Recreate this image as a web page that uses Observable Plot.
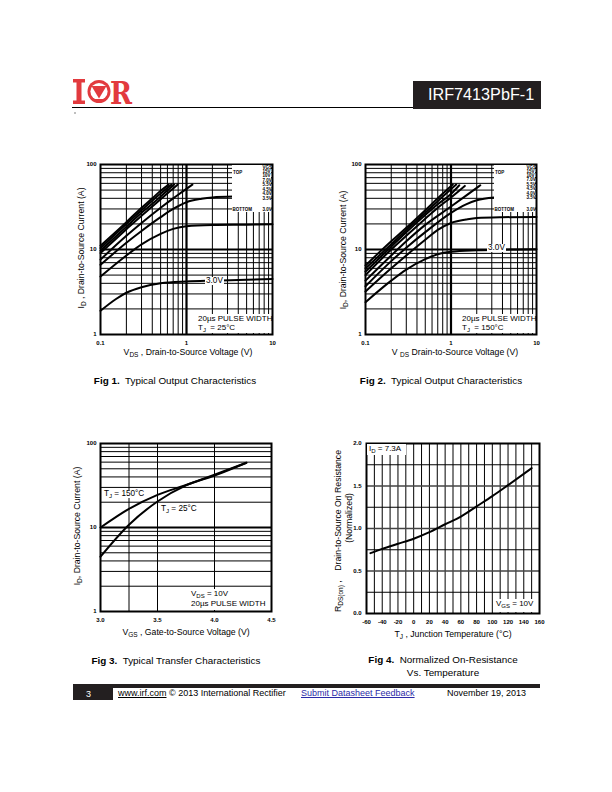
<!DOCTYPE html>
<html><head><meta charset="utf-8">
<script src="https://cdn.jsdelivr.net/npm/d3@7"></script>
<script src="https://cdn.jsdelivr.net/npm/@observablehq/plot@0.6"></script>
<style>
body{margin:0;background:#fff;}
#page{position:relative;width:612px;height:792px;overflow:hidden;font-family:Arial,"Liberation Sans",Helvetica,sans-serif;color:#000;background:#fff;}
.abs{position:absolute;white-space:nowrap;line-height:1;}
sub{font-size:75%;vertical-align:-0.3em;line-height:0;}
</style></head><body><div id="page"></div>
<script>
// ---------------- DATA ----------------
const vgsLevels = ["15V","10V","7.0V","5.5V","4.5V","4.0V","3.5V","3.0V"];
const legendTitle = "VGS";

// Fig 1: Tj = 25°C, VDS (V) vs ID (A)
const fig1Vds = [
  [0.1,0.2,0.3,0.4,0.5,0.62],
  [0.1,0.2,0.3,0.4,0.5,0.67],
  [0.1,0.2,0.3,0.4,0.5,0.72],
  [0.1,0.2,0.3,0.4,0.5,0.79],
  [0.1,0.2,0.3,0.5,0.7,0.9,1.17],
  [0.1,0.2,0.3,0.5,0.7,1,1.5,2,3.5],
  [0.1,0.2,0.3,0.5,0.7,1,2,5,10],
  [0.1,0.15,0.2,0.3,0.5,1,2,5,10]
];
const fig1Id = [
  [11.1,21,31,40,49,58],
  [10.4,20,29,37.5,45.5,58],
  [9.7,18.5,27,34.5,42,58],
  [9.1,17.3,25,32,39,58],
  [7.6,14.5,20.5,31,40,48,58],
  [6.6,12,16.5,24,30,36,39.5,41,42],
  [4.8,8.5,11.5,15.3,17.5,18.8,19.4,19.6,19.8],
  [1.9,2.6,3.1,3.6,4.0,4.2,4.3,4.4,4.5]
];
// Fig 2: Tj = 150°C
const fig2Vds = [
  [0.1,0.2,0.3,0.5,0.7,1.05],
  [0.1,0.2,0.3,0.5,0.7,1.15],
  [0.1,0.2,0.3,0.5,0.7,1.0,1.25],
  [0.1,0.2,0.3,0.5,0.7,1.0,1.45],
  [0.1,0.2,0.3,0.5,1,1.5,2.2],
  [0.1,0.2,0.3,0.5,1,1.5,2,3.2],
  [0.1,0.2,0.3,0.5,0.7,1,1.5,2,4,10],
  [0.1,0.2,0.3,0.5,0.7,1,2,5,10]
];
const fig2Id = [
  [6.5,12.5,18,29,40,58],
  [6.0,11.5,17,27,37,58],
  [5.5,10.8,16,25.5,34,45,57],
  [5.0,10,14.5,23,31,41,56],
  [4.3,8.5,12.5,19.5,32,43,57],
  [3.7,7.3,10.5,16,27,34,38,41],
  [3.2,6,8.5,13,17,20.5,22.5,23.5,24,24.2],
  [2.4,4.3,5.8,7.7,8.8,9.4,9.8,10,10.1]
];
// Fig 3: transfer characteristics, VGS (V) vs ID (A)
const fig3Series = ["TJ = 150°C","TJ = 25°C"];
const fig3Vgs = [[3.0,3.25,3.5,3.75,4.0,4.28],[3.0,3.25,3.5,3.75,4.0,4.28]];
const fig3Id  = [[10,16.7,24.5,32,42.5,59],[4.5,10.8,20.4,31.7,41.5,59]];
// Fig 4: normalized RDS(on) vs TJ
const fig4Tj = [-55,-40,-20,0,20,40,60,80,100,120,150];
const fig4R  = [0.71,0.76,0.82,0.88,0.957,1.05,1.14,1.26,1.38,1.51,1.71];

// tick labels / grid values
const logTicksX = [0.1,1,10];
const logTicksY = [1,10,100];
const logMinorX = [0.2,0.3,0.4,0.5,0.6,0.7,0.8,0.9,2,3,4,5,6,7,8,9];
const logMajorX = [1];
const logMinorY = [2,3,4,5,6,7,8,9,20,30,40,50,60,70,80,90];
const logMajorY = [10];
const fig3TicksX = [3.0,3.5,4.0,4.5];
const fig3GridX = [3.25,3.5,4.0];
const fig4TicksX = [-60,-40,-20,0,20,40,60,80,100,120,140,160];
const fig4TicksY = [0,0.5,1.0,1.5,2.0];
const fig4GridX = [-50,-40,-30,-20,-10,0,10,20,30,40,50,60,70,80,90,100,110,120,130,140,150];
const fig4GridY = [0.25,0.75,1.25,1.75];
const fig4GridYMajor = [0.5,1.0,1.5];

// ---------------- HELPERS ----------------
const page = document.getElementById("page");
function rows(keys, xs, ys){ return keys.flatMap((k,j)=>xs[j].map((x,i)=>({k, x, y: ys[j][i]}))); }
function add(html, css){ const d=document.createElement("div"); d.className="abs"; d.innerHTML=html; Object.assign(d.style, css); page.appendChild(d); return d; }
function chart(o){
  const svg = Plot.plot({
    width:o.w, height:o.h, marginLeft:o.ml, marginRight:o.mr, marginTop:o.mt, marginBottom:o.mb,
    style:{fontFamily:"Arial, 'Liberation Sans', sans-serif", fontSize:"6px", fontWeight:"bold", background:"transparent", overflow:"visible", color:"#000"},
    x:o.x, y:o.y, marks:o.marks
  });
  svg.style.position="absolute"; svg.style.left=o.left+"px"; svg.style.top=o.top+"px";
  page.appendChild(svg);
}
const thin = {stroke:"#000", strokeWidth:1};
const thick = {stroke:"#000", strokeWidth:2.2};
function outputMarks(data){
  return [
    Plot.ruleX(logMinorX, thin), Plot.ruleX(logMajorX, thick),
    Plot.ruleY(logMinorY, thin), Plot.ruleY(logMajorY, thick),
    Plot.line(data, {x:"x", y:"y", z:"k", curve:"monotone-x", stroke:"#000", strokeWidth:2}),
    Plot.frame({stroke:"#000", strokeWidth:2})
  ];
}
const logX = {type:"log", domain:[0.1,10], ticks:logTicksX, tickFormat:d=>String(d), tickSize:0, tickPadding:6, label:null};
const logY = {type:"log", domain:[1,100], ticks:logTicksY, tickFormat:d=>String(d), tickSize:0, tickPadding:4, label:null};

// ---------------- FIG 1 ----------------
chart({left:60, top:150, w:230, h:220, ml:40, mr:18, mt:14, mb:36, x:logX, y:logY,
  marks: outputMarks(rows(vgsLevels, fig1Vds, fig1Id))});
// ---------------- FIG 2 ----------------
chart({left:330, top:150, w:230, h:220, ml:35, mr:24, mt:14, mb:36, x:logX, y:logY,
  marks: outputMarks(rows(vgsLevels, fig2Vds, fig2Id))});
// ---------------- FIG 3 ----------------
chart({left:60, top:430, w:230, h:220, ml:40, mr:19, mt:13, mb:39,
  x:{domain:[3.0,4.5], ticks:fig3TicksX, tickFormat:d3.format(".1f"), tickSize:0, tickPadding:6, label:null},
  y:logY,
  marks:[
    Plot.ruleX(fig3GridX, thin),
    Plot.ruleY(logMinorY, thin), Plot.ruleY(logMajorY, thick),
    Plot.line(rows(fig3Series, fig3Vgs, fig3Id), {x:"x", y:"y", z:"k", curve:"monotone-x", stroke:"#000", strokeWidth:2}),
    Plot.frame({stroke:"#000", strokeWidth:2})
  ]});
// ---------------- FIG 4 ----------------
chart({left:330, top:430, w:230, h:220, ml:36, mr:21, mt:13, mb:37,
  x:{domain:[-60,160], ticks:fig4TicksX, tickFormat:d=>String(d), tickSize:0, tickPadding:6, label:null},
  y:{domain:[0,2], ticks:fig4TicksY, tickFormat:d3.format(".1f"), tickSize:0, tickPadding:5, label:null},
  marks:[
    Plot.ruleX(fig4GridX, thin),
    Plot.ruleY(fig4GridY, thin), Plot.ruleY(fig4GridYMajor, {stroke:"#444", strokeWidth:1.6}),
    Plot.line(fig4Tj.map((t,i)=>({x:t, y:fig4R[i]})), {x:"x", y:"y", curve:"monotone-x", stroke:"#000", strokeWidth:2}),
    Plot.frame({stroke:"#000", strokeWidth:2})
  ]});

// ---------------- OVERLAYS (legends / annotations) ----------------
const NS = "http://www.w3.org/2000/svg";
const legendSvg = document.createElementNS(NS, "svg");
legendSvg.setAttribute("width", 612); legendSvg.setAttribute("height", 792);
Object.assign(legendSvg.style, {position:"absolute", left:"0", top:"0"});
function stext(g, t, x, y){
  const e = document.createElementNS(NS, "text");
  e.setAttribute("transform", `translate(${x},${y}) scale(0.5)`);
  e.setAttribute("font-size", "9"); e.setAttribute("font-weight", "bold");
  e.setAttribute("font-family", "Arial,'Liberation Sans',sans-serif");
  e.textContent = t; g.appendChild(e);
}
function legend(left, top, w, h, valueX, ys){
  const r = document.createElementNS(NS, "rect");
  r.setAttribute("x", left); r.setAttribute("y", top); r.setAttribute("width", w); r.setAttribute("height", h); r.setAttribute("fill", "#fff");
  legendSvg.appendChild(r);
  stext(legendSvg, "TOP", left+1, ys[1]+0.5);
  stext(legendSvg, "BOTTOM", left+0.5, ys[8]);
  [legendTitle, ...vgsLevels].forEach((t,i)=> stext(legendSvg, t, valueX, ys[i]));
}
legend(232, 165, 39, 47, 262.5, [168.5,173,177,181.5,185.5,190.5,194.5,199.5,211]);
legend(494, 165, 41, 47, 526.5, [168.5,173,177,181,186,190,195,199,211]);
page.appendChild(legendSvg);

function note(lines, left, top, w, h, gap){
  add("", {left:left+"px", top:top+"px", width:w+"px", height:h+"px", background:"#fff"});
  lines.forEach((l,i)=> add(l, {left:(left+2)+"px", top:(top+1+i*gap)+"px", fontSize:"8px"}));
}
note(["20µs PULSE WIDTH","T<sub>J</sub>&nbsp; = 25°C"], 196, 314, 75, 19, 9);
note(["20µs PULSE WIDTH","T<sub>J</sub>&nbsp; = 150°C"], 460, 314, 75, 19, 9);
note(["V<sub>DS</sub> = 10V","20µs PULSE WIDTH"], 189, 589, 81, 21, 10);
note(["I<sub>D</sub> = 7.3A"], 367, 444, 39, 11, 9);
note(["V<sub>GS</sub> = 10V"], 494, 599, 44, 13, 9);

// curve labels with white backgrounds
add("3.0V", {left:"205px", top:"277px", fontSize:"8.2px", background:"#fff", padding:"0 1px"});
add("3.0V", {left:"487px", top:"244px", fontSize:"8.2px", background:"#fff", padding:"0 1px"});
add("T<sub>J</sub> = 150°C", {left:"104px", top:"490px", fontSize:"8.2px", background:"#fff"});
add("T<sub>J</sub> = 25°C", {left:"161px", top:"505px", fontSize:"8.2px", background:"#fff"});

// axis titles
const rot = "translate(-50%,-50%) rotate(-90deg)";
const cen = "translate(-50%,-50%)";
const af = "8.7px";
add("I<sub>D</sub> , Drain-to-Source Current (A)", {left:"81px", top:"248px", fontSize:af, transform:rot});
add("I<sub>D</sub>, Drain-to-Source Current (A)", {left:"343px", top:"250px", fontSize:af, transform:rot});
add("I<sub>D</sub>, Drain-to-Source Current (A)", {left:"77px", top:"526px", fontSize:af, transform:rot});
add("R<sub>DS(on)</sub> ,&nbsp;&nbsp;&nbsp; Drain-to-Source On Resistance", {left:"338px", top:"531px", fontSize:af, transform:rot});
add("(Normalized)", {left:"349px", top:"518px", fontSize:af, transform:rot});
add("V<sub>DS</sub> , Drain-to-Source Voltage (V)", {left:"188px", top:"352px", fontSize:af, transform:cen});
add("V <sub>DS</sub> Drain-to-Source Voltage (V)", {left:"455px", top:"352px", fontSize:af, transform:cen});
add("V<sub>GS</sub> , Gate-to-Source Voltage (V)", {left:"186px", top:"632px", fontSize:af, transform:cen});
add("T<sub>J</sub> , Junction Temperature (°C)", {left:"453px", top:"634px", fontSize:af, transform:cen});

// captions
const cf = "9.9px";
add("<b>Fig 1.</b>&nbsp; Typical Output Characteristics", {left:"175px", top:"381px", fontSize:cf, transform:cen});
add("<b>Fig 2.</b>&nbsp; Typical Output Characteristics", {left:"441px", top:"381px", fontSize:cf, transform:cen});
add("<b>Fig 3.</b>&nbsp; Typical Transfer Characteristics", {left:"176px", top:"661px", fontSize:cf, transform:cen});
add("<b>Fig 4.</b>&nbsp; Normalized On-Resistance", {left:"443px", top:"660px", fontSize:cf, transform:cen});
add("Vs. Temperature", {left:"443px", top:"673px", fontSize:cf, transform:cen});

// header & footer decoration
const deco = `<svg width="612" height="792" style="position:absolute;left:0;top:0" xmlns="http://www.w3.org/2000/svg">
<g fill="#e23a3e">
<rect x="73" y="79" width="12" height="3.5"/><rect x="76.5" y="79" width="5" height="25"/><rect x="73" y="100.5" width="12" height="3.5"/>
<circle cx="99" cy="91.5" r="11.5"/>
</g>
<circle cx="99" cy="91.5" r="8.6" fill="#fff"/>
<path d="M91.5 86 L106.5 86 L99 98.5 Z" fill="#e23a3e"/>
<rect x="93" y="99" width="12" height="2" fill="#e23a3e"/>
<text x="110" y="104" font-family="'DejaVu Serif',serif" font-weight="bold" font-size="32" fill="#e23a3e" textLength="22" lengthAdjust="spacingAndGlyphs">R</text>
<line x1="72" y1="107.5" x2="413" y2="107.5" stroke="#000" stroke-width="1"/>
<rect x="74.5" y="112.5" width="1" height="1" fill="#000"/>
<rect x="413" y="81" width="128" height="28" fill="#231f20"/>
<text x="428" y="99.5" font-family="Arial,'Liberation Sans',sans-serif" font-size="16.2" fill="#fff">IRF7413PbF-1</text>
<rect x="73" y="684" width="467" height="4" fill="#231f20"/>
<rect x="73" y="684" width="40" height="16" fill="#231f20"/>
<text x="86" y="697" font-family="Arial,'Liberation Sans',sans-serif" font-size="9" fill="#fff">3</text>
</svg>`;
add(deco, {left:"0", top:"0"});
add('<span style="text-decoration:underline">www.irf.com</span> © 2013 International Rectifier', {left:"118px", top:"689px", fontSize:"9px"});
add('<span style="text-decoration:underline;color:#2b2ba8">Submit Datasheet Feedback</span>', {left:"301px", top:"689px", fontSize:"9px"});
add('November 19, 2013', {left:"447px", top:"689px", fontSize:"9px"});
</script></body></html>
